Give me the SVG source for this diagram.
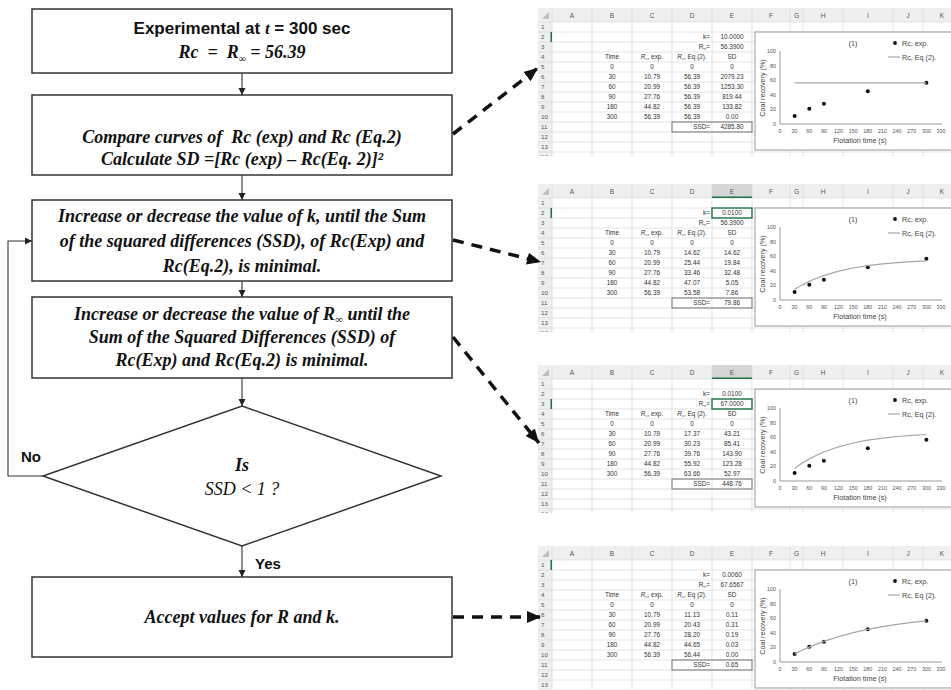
<svg xmlns="http://www.w3.org/2000/svg" width="951" height="690" viewBox="0 0 951 690">
<style>
.box{fill:#fff;stroke:#333;stroke-width:1.5}
.fl{stroke:#333;stroke-width:1.1;fill:none}
.ser{font-family:"Liberation Serif","Times New Roman",serif;font-weight:bold;font-style:italic;font-size:18px;fill:#111;text-anchor:middle}
.sans{font-family:"Liberation Sans",Arial,sans-serif;font-weight:bold;fill:#111}
.dash{stroke:#111;stroke-width:3.5;stroke-dasharray:11 8;fill:none}
.hdr{fill:#efefef}
.gl{stroke:#dadada;stroke-width:0.7;fill:none}
.ct{font-family:"Liberation Sans",Arial,sans-serif;font-size:6.4px;fill:#333;text-anchor:middle}
.cr{text-anchor:end}
.ch{font-family:"Liberation Sans",Arial,sans-serif;font-size:6.5px;fill:#555;text-anchor:middle}
.rn{font-family:"Liberation Sans",Arial,sans-serif;font-size:6.2px;fill:#555}
.ax{stroke:#8c8c8c;stroke-width:0.9;fill:none}
.tk{font-family:"Liberation Sans",Arial,sans-serif;font-size:5.4px;fill:#555;text-anchor:middle}
.lg{font-family:"Liberation Sans",Arial,sans-serif;font-size:7.2px;fill:#444}
.cv{stroke:#a6a6a6;stroke-width:1.2;fill:none}
.pt{fill:#111}
.sel{fill:none;stroke:#217346;stroke-width:1.4}
.selh{fill:#d6d6d6}
</style>
<defs>
<marker id="ah" markerUnits="userSpaceOnUse" markerWidth="8" markerHeight="8" refX="7" refY="3.5" orient="auto"><path d="M0,0 L7,3.5 L0,7 z" fill="#222"/></marker>
<marker id="ahb" markerUnits="userSpaceOnUse" markerWidth="16" markerHeight="14" refX="14" refY="6" orient="auto"><path d="M0,0 L14,6 L0,12 z" fill="#111"/></marker>
<clipPath id="sc"><rect x="538" y="3" width="413" height="153"/></clipPath>
<g id="sheetBase">
<rect class="hdr" x="538" y="8" width="413" height="14"/>
<rect class="hdr" x="538" y="22" width="14" height="134"/>
<polygon points="549,12 549,19 542,19" fill="#bdbdbd"/>
<path class="gl" d="M538 22H951M538 32H951M538 42H951M538 52H951M538 62H951M538 72H951M538 82H951M538 92H951M538 102H951M538 112H951M538 122H951M538 132H951M538 142H951M538 152H951"/>
<path class="gl" d="M552 8V156M592 8V156M632 8V156M672 8V156M712 8V156M752 8V156M790 8V156M803 8V156M843 8V156M893 8V156M923 8V156"/>
<g class="ch"><text x="572" y="17.5">A</text><text x="612" y="17.5">B</text><text x="652" y="17.5">C</text><text x="692" y="17.5">D</text><text x="732" y="17.5">E</text><text x="771" y="17.5">F</text><text x="796.5" y="17.5">G</text><text x="823" y="17.5">H</text><text x="868" y="17.5">I</text><text x="908" y="17.5">J</text><text x="942" y="17.5">K</text></g>
<g class="rn"><text x="541" y="29.3">1</text><text x="541" y="39.3">2</text><text x="541" y="49.3">3</text><text x="541" y="59.3">4</text><text x="541" y="69.3">5</text><text x="541" y="79.3">6</text><text x="541" y="89.3">7</text><text x="541" y="99.3">8</text><text x="541" y="109.3">9</text><text x="541" y="119.3">10</text><text x="541" y="129.3">11</text><text x="541" y="139.3">12</text><text x="541" y="149.3">13</text><text x="541" y="159.3">14</text></g>
<g class="ct">
<text x="710" y="39.3" class="cr">k=</text>
<text x="710" y="49.3" class="cr">R<tspan font-size="4.2" dy="1">∞</tspan><tspan dy="-1">=</tspan></text>
<text x="612" y="59.3">Time</text>
<text x="652" y="59.3"><tspan font-style="italic">R</tspan><tspan font-size="4.2" dy="1">c</tspan><tspan dy="-1">, exp.</tspan></text>
<text x="692" y="59.3"><tspan font-style="italic">R</tspan><tspan font-size="4.2" dy="1">c</tspan><tspan dy="-1">, Eq (2).</tspan></text>
<text x="732" y="59.3">SD</text>
<text x="612" y="69.3">0</text><text x="612" y="79.3">30</text><text x="612" y="89.3">60</text><text x="612" y="99.3">90</text><text x="612" y="109.3">180</text><text x="612" y="119.3">300</text>
<text x="652" y="69.3">0</text><text x="652" y="79.3">10.79</text><text x="652" y="89.3">20.99</text><text x="652" y="99.3">27.76</text><text x="652" y="109.3">44.82</text><text x="652" y="119.3">56.39</text>
<text x="692" y="69.3">0</text><text x="732" y="69.3">0</text>
<text x="710" y="129.3" class="cr">SSD=</text>
</g>
<rect x="672" y="122" width="80" height="10" fill="none" stroke="#555" stroke-width="0.8"/>
<rect x="755" y="32" width="210" height="118" fill="#fff" stroke="#999" stroke-width="1"/>
<path class="ax" d="M780 51V124H942"/>
<g class="tk" style="text-anchor:end"><text x="776" y="126">0</text><text x="776" y="111.4">20</text><text x="776" y="96.8">40</text><text x="776" y="82.2">60</text><text x="776" y="67.6">80</text><text x="776" y="53">100</text></g>
<g class="tk"><text x="780" y="133">0</text><text x="794.6" y="133">30</text><text x="809.3" y="133">60</text><text x="823.9" y="133">90</text><text x="838.6" y="133">120</text><text x="853.2" y="133">150</text><text x="867.8" y="133">180</text><text x="882.5" y="133">210</text><text x="897.1" y="133">240</text><text x="911.8" y="133">270</text><text x="926.4" y="133">300</text><text x="941" y="133">330</text></g>
<text class="lg" x="860" y="143" text-anchor="middle">Flotation time (s)</text>
<text class="lg" transform="translate(765,88) rotate(-90)" text-anchor="middle">Coal recovery (%)</text>
<text class="lg" x="853" y="46" text-anchor="middle" font-size="8.5">(1)</text>
<circle class="pt" cx="895" cy="43" r="1.9"/>
<text class="lg" x="902" y="45.5">Rc, exp.</text>
<line class="cv" x1="888" y1="57" x2="900" y2="57"/>
<text class="lg" x="902" y="59.5">Rc, Eq (2).</text>
<g class="pt"><circle cx="794.6" cy="116.1" r="2"/><circle cx="809.3" cy="108.7" r="2"/><circle cx="823.9" cy="103.7" r="2"/><circle cx="867.8" cy="91.3" r="2"/><circle cx="926.4" cy="82.8" r="2"/></g>
</g>
</defs>

<g id="sheet1" clip-path="url(#sc)">
<use href="#sheetBase"/>
<rect x="550.5" y="32" width="1.5" height="10" fill="#217346"/>
<g class="ct">
<text x="732" y="39.3">10.0000</text><text x="732" y="49.3">56.3900</text>
<text x="692" y="79.3">56.39</text><text x="692" y="89.3">56.39</text><text x="692" y="99.3">56.39</text><text x="692" y="109.3">56.39</text><text x="692" y="119.3">56.39</text>
<text x="732" y="79.3">2079.23</text><text x="732" y="89.3">1253.30</text><text x="732" y="99.3">819.44</text><text x="732" y="109.3">133.82</text><text x="732" y="119.3">0.00</text>
<text x="732" y="129.3">4285.80</text>
</g>
<line class="cv" x1="794.6" y1="82.8" x2="926.4" y2="82.8"/>
</g>

<g id="sheet2" transform="translate(0,176)">
<g clip-path="url(#sc)">
<use href="#sheetBase"/>
<rect class="selh" x="712" y="8" width="40" height="14"/>
<line x1="712" y1="21.3" x2="752" y2="21.3" stroke="#217346" stroke-width="1.4"/>
<text class="ch" x="732" y="17.5">E</text>
<rect x="550.5" y="32" width="1.5" height="10" fill="#217346"/>
<rect class="sel" x="712" y="32" width="40" height="10"/>
<g class="ct">
<text x="732" y="39.3">0.0100</text><text x="732" y="49.3">56.3900</text>
<text x="692" y="79.3">14.62</text><text x="692" y="89.3">25.44</text><text x="692" y="99.3">33.46</text><text x="692" y="109.3">47.07</text><text x="692" y="119.3">53.58</text>
<text x="732" y="79.3">14.62</text><text x="732" y="89.3">19.84</text><text x="732" y="99.3">32.48</text><text x="732" y="109.3">5.05</text><text x="732" y="119.3">7.86</text>
<text x="732" y="129.3">79.86</text>
</g>
<polyline class="cv" points="794.6,113.3 802,109.1 809.3,105.4 816.6,102.3 823.9,99.6 838.6,95.2 853.2,92 867.8,89.6 882.5,87.9 897.1,86.6 911.8,85.6 926.4,84.9"/>
</g>
</g>

<g id="sheet3" transform="translate(0,357)">
<g clip-path="url(#sc)">
<use href="#sheetBase"/>
<rect class="selh" x="712" y="8" width="40" height="14"/>
<line x1="712" y1="21.3" x2="752" y2="21.3" stroke="#217346" stroke-width="1.4"/>
<text class="ch" x="732" y="17.5">E</text>
<rect x="550.5" y="42" width="1.5" height="10" fill="#217346"/>
<rect class="sel" x="712" y="42" width="40" height="10"/>
<g class="ct">
<text x="732" y="39.3">0.0100</text><text x="732" y="49.3">67.0000</text>
<text x="692" y="79.3">17.37</text><text x="692" y="89.3">30.23</text><text x="692" y="99.3">39.76</text><text x="692" y="109.3">55.92</text><text x="692" y="119.3">63.66</text>
<text x="732" y="79.3">43.21</text><text x="732" y="89.3">85.41</text><text x="732" y="99.3">143.90</text><text x="732" y="109.3">123.28</text><text x="732" y="119.3">52.97</text>
<text x="732" y="129.3">448.76</text>
</g>
<polyline class="cv" points="794.6,111.3 802,106.3 809.3,101.9 816.6,98.2 823.9,95 838.6,89.8 853.2,86 867.8,83.2 882.5,81.1 897.1,79.5 911.8,78.4 926.4,77.5"/>
</g>
</g>

<g id="sheet4" transform="translate(0,538)">
<g clip-path="url(#sc)">
<use href="#sheetBase"/>
<rect x="550.5" y="22" width="1.5" height="10" fill="#217346"/>
<g class="ct">
<text x="732" y="39.3">0.0060</text><text x="732" y="49.3">67.6567</text>
<text x="692" y="79.3">11.13</text><text x="692" y="89.3">20.43</text><text x="692" y="99.3">28.20</text><text x="692" y="109.3">44.65</text><text x="692" y="119.3">56.44</text>
<text x="732" y="79.3">0.11</text><text x="732" y="89.3">0.31</text><text x="732" y="99.3">0.19</text><text x="732" y="109.3">0.03</text><text x="732" y="119.3">0.00</text>
<text x="732" y="129.3">0.65</text>
</g>
<polyline class="cv" points="794.6,115.9 802,112.3 809.3,109.1 816.6,106.1 823.9,103.4 838.6,98.7 853.2,94.7 867.8,91.4 882.5,88.6 897.1,86.3 911.8,84.4 926.4,82.8"/>
</g>
</g>

<g id="n1">
<rect class="box" x="32" y="9" width="420" height="64"/>
<text class="sans" x="242" y="34" font-size="17" text-anchor="middle">Experimental at <tspan font-family="Liberation Serif,serif" font-style="italic">t</tspan> = 300 sec</text>
<text class="ser" x="242" y="58" font-size="17">Rc&#160;&#160;=&#160;&#160;R<tspan font-size="10" dy="4">∞</tspan><tspan dy="-4"> = 56.39</tspan></text>
</g>
<g id="n2">
<rect class="box" x="32" y="95" width="420" height="80"/>
<text class="ser" x="242" y="143">Compare curves of&#160;&#160;Rc (exp) and Rc (Eq.2)</text>
<text class="ser" x="242" y="165">Calculate SD =[Rc (exp) – Rc(Eq. 2)]²</text>
</g>
<g id="n3">
<rect class="box" x="32" y="200" width="420" height="81"/>
<text class="ser" x="242" y="222">Increase or decrease the value of k, until the Sum</text>
<text class="ser" x="242" y="247">of the squared differences (SSD), of Rc(Exp) and</text>
<text class="ser" x="242" y="272">Rc(Eq.2), is minimal.</text>
</g>
<g id="n4">
<rect class="box" x="32" y="297" width="420" height="81"/>
<text class="ser" x="242" y="320">Increase or decrease the value of R<tspan font-size="11" dy="3">∞</tspan><tspan dy="-3"> until the</tspan></text>
<text class="ser" x="242" y="343">Sum of the Squared Differences (SSD) of</text>
<text class="ser" x="242" y="366">Rc(Exp) and Rc(Eq.2) is minimal.</text>
</g>
<g id="n5">
<polygon class="box" points="242,406 441,476 242,546 43,476"/>
<text class="ser" x="242" y="471">Is</text>
<text class="ser" x="242" y="495" style="font-weight:normal">SSD &lt; 1 ?</text>
</g>
<g id="n6">
<rect class="box" x="32" y="577" width="420" height="80"/>
<text class="ser" x="242" y="623" font-size="17">Accept values for R and k.</text>
</g>

<g id="connectors">
<path class="fl" d="M242 73V95" marker-end="url(#ah)"/>
<path class="fl" d="M242 175V200" marker-end="url(#ah)"/>
<path class="fl" d="M242 281V297" marker-end="url(#ah)"/>
<path class="fl" d="M242 378V406" marker-end="url(#ah)"/>
<path class="fl" d="M242 546V577" marker-end="url(#ah)"/>
<path class="fl" d="M43 476H8V241H32" marker-end="url(#ah)"/>
<text class="sans" x="21" y="462" font-size="15">No</text>
<text class="sans" x="255" y="569" font-size="15">Yes</text>
<path class="dash" d="M453 134L538 68" marker-end="url(#ahb)"/>
<path class="dash" d="M453 240L541 262" marker-end="url(#ahb)"/>
<path class="dash" d="M453 337L539 443" marker-end="url(#ahb)"/>
<path class="dash" d="M453 617L541 617" marker-end="url(#ahb)"/>
</g>
</svg>
